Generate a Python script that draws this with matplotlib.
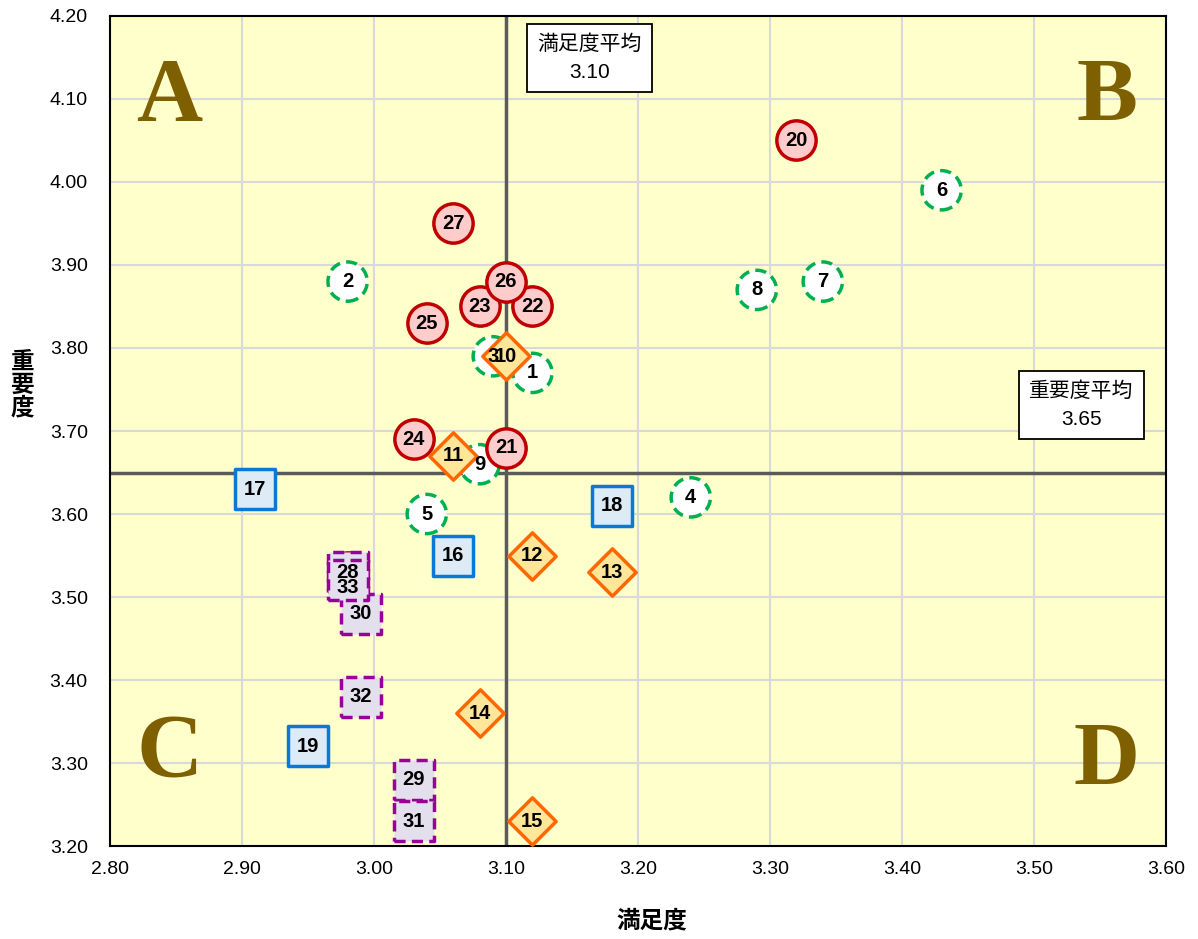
import matplotlib.pyplot as plt

plt.rcParams['font.family'] = ['Liberation Sans', 'Noto Sans CJK JP', 'DejaVu Sans']

# green dashed circles
g_ids = [1, 2, 3, 4, 5, 6, 7, 8, 9]
g_x = [3.12, 2.98, 3.09, 3.24, 3.04, 3.43, 3.34, 3.29, 3.08]
g_y = [3.77, 3.88, 3.79, 3.62, 3.60, 3.99, 3.88, 3.87, 3.66]

# red circles
r_ids = [20, 21, 22, 23, 24, 25, 26, 27, 28]
r_x = [3.32, 3.10, 3.12, 3.08, 3.03, 3.04, 3.10, 3.06, 2.98]
r_y = [4.05, 3.68, 3.85, 3.85, 3.69, 3.83, 3.88, 3.95, 3.53]

# orange diamonds
d_ids = [10, 11, 12, 13, 14, 15]
d_x = [3.10, 3.06, 3.12, 3.18, 3.08, 3.12]
d_y = [3.79, 3.67, 3.55, 3.53, 3.36, 3.23]

# blue squares
b_ids = [16, 17, 18, 19]
b_x = [3.06, 2.91, 3.18, 2.95]
b_y = [3.55, 3.63, 3.61, 3.32]

# purple dashed squares
p_ids = [28, 29, 30, 31, 32, 33]
p_x = [2.98, 3.03, 2.99, 3.03, 2.99, 2.98]
p_y = [3.53, 3.28, 3.48, 3.23, 3.38, 3.52]

x_mean = 3.10
y_mean = 3.65
xticks = [2.8, 2.9, 3.0, 3.1, 3.2, 3.3, 3.4, 3.5, 3.6]
yticks = [3.2, 3.3, 3.4, 3.5, 3.6, 3.7, 3.8, 3.9, 4.0, 4.1, 4.2]

fig = plt.figure(figsize=(11.98, 9.39), dpi=100)
ax = fig.add_axes([0.0918, 0.099, 0.8815, 0.884])
ax.set_facecolor('#FFFFCC')
ax.set_xlim(2.8, 3.6)
ax.set_ylim(3.2, 4.2)
ax.set_xticks(xticks)
ax.set_yticks(yticks)
ax.set_xticklabels(['%.2f' % v for v in xticks], fontsize=14)
ax.set_yticklabels(['%.2f' % v for v in yticks], fontsize=14)
ax.tick_params(axis='x', length=0, pad=11)
ax.tick_params(axis='y', length=0, pad=16)
ax.grid(True, color='#D9D9D9', lw=1.5, zorder=0)
ax.set_axisbelow(True)
for s in ax.spines.values():
    s.set_linewidth(1.5)
    s.set_color('black')

ax.axvline(x_mean, color='#5A5A5A', lw=2.5, zorder=1)
ax.axhline(y_mean, color='#5A5A5A', lw=2.5, zorder=1)

dash = (0, (3.2, 1.8))
ax.scatter(g_x, g_y, s=800, marker='o', facecolor='white', edgecolor='#00B050',
           linewidths=2.5, linestyle=dash, zorder=3)
ax.scatter(r_x, r_y, s=800, marker='o', facecolor='#FFCCCC', edgecolor='#C00000',
           linewidths=2.5, zorder=4)
ax.scatter(d_x, d_y, s=580, marker='D', facecolor='#FFE699', edgecolor='#FF6600',
           linewidths=2.5, zorder=5)
ax.scatter(b_x, b_y, s=830, marker='s', facecolor='#DDEBF7', edgecolor='#0A78D8',
           linewidths=2.5, zorder=6)
ax.scatter(p_x, p_y, s=830, marker='s', facecolor='#E4DFEC', edgecolor='#990099',
           linewidths=2.5, linestyle=dash, zorder=7)

label_shift = {33: -5}
for ids, xs, ys, z in [(g_ids, g_x, g_y, 10), (r_ids, r_x, r_y, 4.5),
                       (d_ids, d_x, d_y, 10), (b_ids, b_x, b_y, 10),
                       (p_ids, p_x, p_y, 10)]:
    for i, x, y in zip(ids, xs, ys):
        dy = label_shift.get(i, 0) if ids is p_ids else 0
        ax.annotate(str(i), (x, y), xytext=(0, dy), textcoords='offset points',
                    ha='center', va='center', fontsize=14.5, fontweight='bold',
                    zorder=z)

# quadrant letters
for letter, x, y in [('A', 2.845, 4.10), ('B', 3.555, 4.10),
                     ('C', 2.845, 3.31), ('D', 3.555, 3.30)]:
    ax.text(x, y, letter, ha='center', va='center', fontsize=66, fontweight='bold',
            family='Liberation Serif', color='#7F6000', zorder=2)

box = dict(boxstyle='square,pad=0.5', facecolor='white', edgecolor='black', lw=1.3)
ax.text(3.163, 4.149, '満足度平均\n%.2f' % x_mean, ha='center', va='center',
        fontsize=15, linespacing=1.55, bbox=box, zorder=12)
ax.text(3.536, 3.731, '重要度平均\n%.2f' % y_mean, ha='center', va='center',
        fontsize=15, linespacing=1.55, bbox=box, zorder=12)

fig.text(0.544, 0.019, '満足度', ha='center', va='center', fontsize=17, fontweight='bold')
fig.text(0.019, 0.59, '重\n要\n度', ha='center', va='center', fontsize=17,
         fontweight='bold', linespacing=1.0)

fig.savefig('out.png', dpi=100)
